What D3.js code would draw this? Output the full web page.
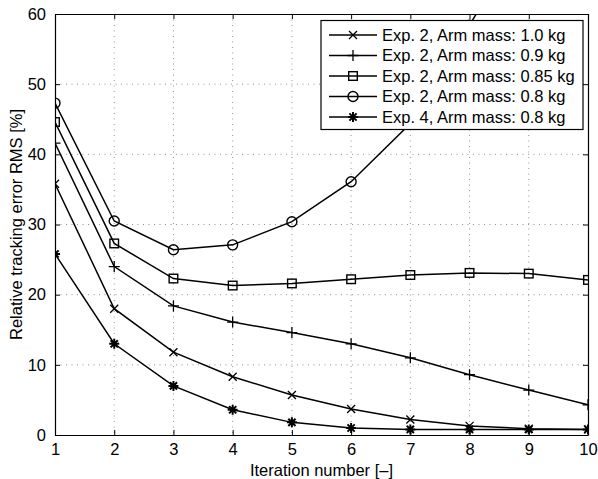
<!DOCTYPE html>
<html>
<head>
<meta charset="utf-8">
<script src="https://cdn.jsdelivr.net/npm/d3@7"></script>
<style>
  html, body { margin: 0; padding: 0; background: #fff; }
  svg { display: block; }
  text { font-family: "Liberation Sans", Arial, Helvetica, sans-serif; fill: #000; }
</style>
</head>
<body>
<div id="chart"></div>
<script>
// ---- data ----
const iterations = [1, 2, 3, 4, 5, 6, 7, 8, 9, 10];
const seriesNames = [
  "Exp. 2, Arm mass: 1.0 kg",
  "Exp. 2, Arm mass: 0.9 kg",
  "Exp. 2, Arm mass: 0.85 kg",
  "Exp. 2, Arm mass: 0.8 kg",
  "Exp. 4, Arm mass: 0.8 kg"
];
const markerTypes = ["x", "plus", "square", "circle", "star"];
const mass10 = [35.8, 18.0, 11.8, 8.3, 5.7, 3.7, 2.2, 1.3, 0.9, 0.8];
const mass09 = [41.6, 24.0, 18.4, 16.1, 14.6, 13.0, 11.0, 8.6, 6.4, 4.3];
const mass085 = [44.6, 27.3, 22.3, 21.3, 21.6, 22.2, 22.8, 23.1, 23.0, 22.1];
const mass08 = [47.3, 30.5, 26.4, 27.1, 30.4, 36.1, 44.4, 58.4, 72.6, 90.0];
const exp4mass08 = [25.8, 13.0, 7.0, 3.6, 1.8, 1.0, 0.8, 0.8, 0.8, 0.8];
const seriesValues = [mass10, mass09, mass085, mass08, exp4mass08];
const xTicks = [1, 2, 3, 4, 5, 6, 7, 8, 9, 10];
const yTicks = [0, 10, 20, 30, 40, 50, 60];
const xLabel = "Iteration number [\u2013]";
const yLabel = "Relative tracking error RMS [%]";

// ---- layout ----
const W = 598, H = 479;
const m = { left: 55, right: 10, top: 14, bottom: 44 };
const pw = W - m.left - m.right, ph = H - m.top - m.bottom;
const FS = "16.5px";

const svg = d3.select("#chart").append("svg").attr("width", W).attr("height", H);
const g = svg.append("g").attr("transform", `translate(${m.left},${m.top})`);

const x = d3.scaleLinear().domain([1, 10]).range([0, pw]);
const y = d3.scaleLinear().domain([0, 60]).range([ph, 0]);

// grid
const grid = g.append("g").attr("stroke", "#777").attr("stroke-width", 0.8).attr("stroke-dasharray", "1,4.5");
grid.selectAll(".gx").data(xTicks.slice(1, -1)).join("line")
  .attr("x1", d => x(d)).attr("x2", d => x(d)).attr("y1", 0).attr("y2", ph);
grid.selectAll(".gy").data(yTicks.slice(1, -1)).join("line")
  .attr("y1", d => y(d)).attr("y2", d => y(d)).attr("x1", 0).attr("x2", pw);

// axes (inward ticks, box)
const tickLen = 5;
const fmt = d3.format("d");
const axB = g.append("g").attr("transform", `translate(0,${ph})`)
  .call(d3.axisBottom(x).tickValues(xTicks).tickFormat(fmt).tickSizeInner(-tickLen).tickSizeOuter(0).tickPadding(10));
const axL = g.append("g")
  .call(d3.axisLeft(y).tickValues(yTicks).tickFormat(fmt).tickSizeInner(-tickLen).tickSizeOuter(0).tickPadding(9));
const axT = g.append("g")
  .call(d3.axisTop(x).tickValues(xTicks).tickFormat("").tickSizeInner(-tickLen).tickSizeOuter(0));
const axR = g.append("g").attr("transform", `translate(${pw},0)`)
  .call(d3.axisRight(y).tickValues(yTicks).tickFormat("").tickSizeInner(-tickLen).tickSizeOuter(0));
[axB, axL, axT, axR].forEach(a => {
  a.select(".domain").attr("stroke", "#000").attr("stroke-width", 1.2);
  a.selectAll(".tick line").attr("stroke", "#000").attr("stroke-width", 1);
  a.selectAll("text").style("font-size", FS).style("font-family", "'Liberation Sans', Arial, sans-serif").attr("fill", "#000");
});
axB.selectAll("text").attr("dy", "0.62em");

// clip
svg.append("defs").append("clipPath").attr("id", "clip")
  .append("rect").attr("x", 0).attr("y", 0).attr("width", pw).attr("height", ph);

// markers
function drawMarker(sel, type, cx, cy) {
  const s = sel.append("g").attr("transform", `translate(${cx},${cy})`)
    .attr("stroke", "#000").attr("fill", "none").attr("stroke-width", 1.3);
  if (type === "x") {
    const r = 4;
    s.append("path").attr("d", `M${-r},${-r}L${r},${r}M${-r},${r}L${r},${-r}`);
  } else if (type === "plus") {
    const r = 5.5;
    s.append("path").attr("d", `M${-r},0L${r},0M0,${-r}L0,${r}`);
  } else if (type === "square") {
    const r = 4.3;
    s.append("rect").attr("x", -r).attr("y", -r).attr("width", 2 * r).attr("height", 2 * r).attr("stroke-width", 1.4);
  } else if (type === "circle") {
    s.append("circle").attr("r", 5).attr("stroke-width", 1.4);
  } else if (type === "star") {
    const r = 5, d = r * 0.72;
    s.attr("stroke-width", 2);
    s.append("path").attr("d", `M${-r},0L${r},0M0,${-r}L0,${r}M${-d},${-d}L${d},${d}M${-d},${d}L${d},${-d}`);
  }
}

const plot = g.append("g").attr("clip-path", "url(#clip)");
const line = d3.line().x((d, i) => x(iterations[i])).y(d => y(d));
seriesValues.forEach((vals, si) => {
  plot.append("path").datum(vals).attr("d", line)
    .attr("fill", "none").attr("stroke", "#000").attr("stroke-width", 1.5);
});
seriesValues.forEach((vals, si) => {
  vals.forEach((v, i) => {
    if (v <= 60) drawMarker(plot, markerTypes[si], x(iterations[i]), y(v));
  });
});

// legend
const lg = svg.append("g");
const lx = 321, ly = 20.5, lw = 262, lh = 109;
lg.append("rect").attr("x", lx).attr("y", ly).attr("width", lw).attr("height", lh)
  .attr("fill", "#fff").attr("stroke", "#000").attr("stroke-width", 1.2);
seriesNames.forEach((name, i) => {
  const cy = ly + 14.5 + i * 20.5;
  lg.append("line").attr("x1", lx + 8).attr("x2", lx + 56).attr("y1", cy).attr("y2", cy)
    .attr("stroke", "#000").attr("stroke-width", 1.5);
  drawMarker(lg, markerTypes[i], lx + 32, cy);
  lg.append("text").attr("x", lx + 61).attr("y", cy).attr("dy", "0.35em")
    .style("font-size", FS).text(name);
});

// axis labels
svg.append("text").attr("x", m.left + pw / 2).attr("y", 476)
  .attr("text-anchor", "middle").style("font-size", FS).text(xLabel);
svg.append("text").attr("transform", `translate(22,${m.top + ph / 2}) rotate(-90)`)
  .attr("text-anchor", "middle").style("font-size", FS).text(yLabel);
</script>
</body>
</html>
